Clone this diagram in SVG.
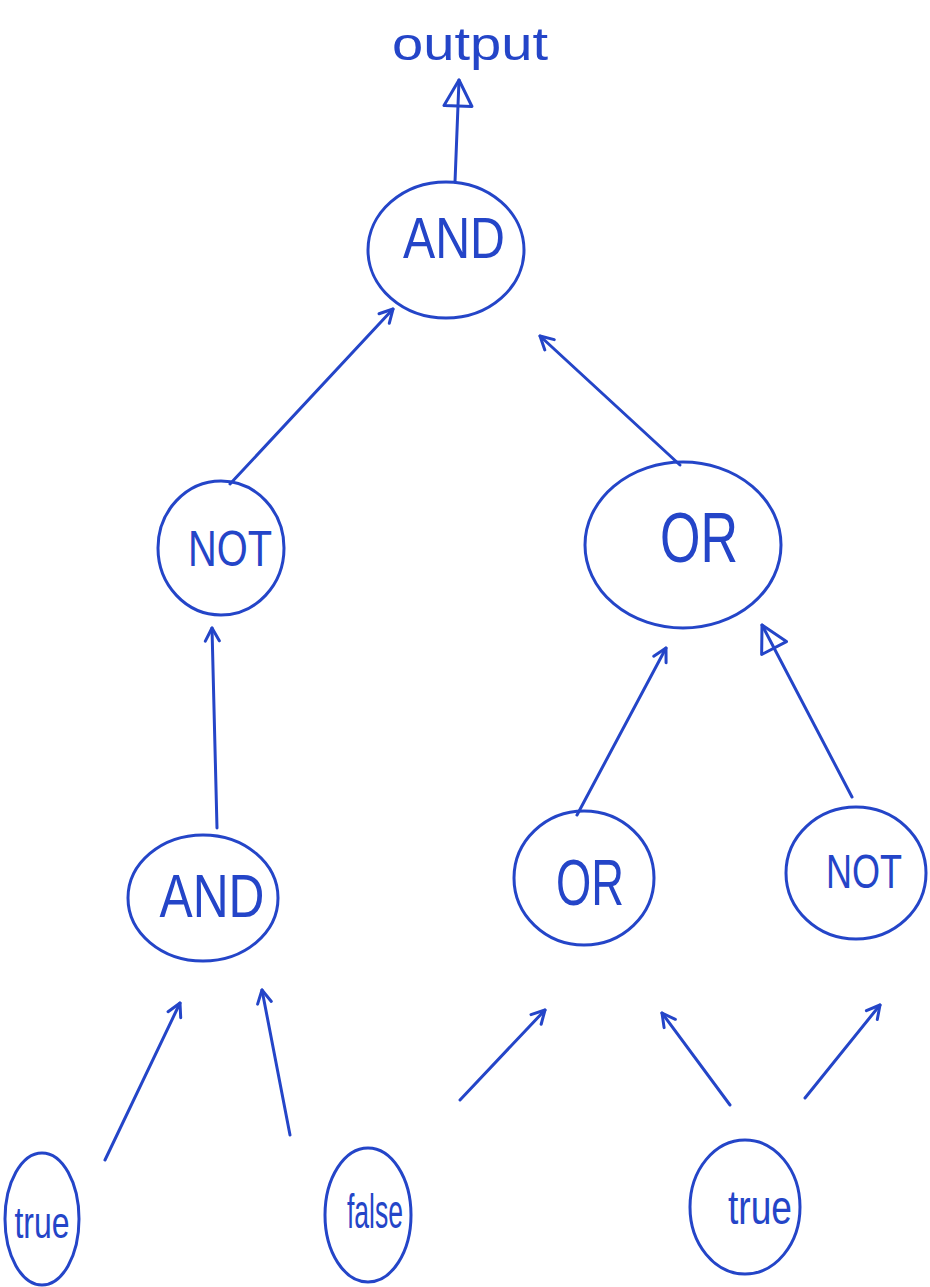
<svg xmlns="http://www.w3.org/2000/svg" width="930" height="1287" viewBox="0 0 930 1287">
  <style>
    .node { fill: none; stroke: #2445c8; stroke-width: 3; }
    .edge { fill: none; stroke: #2445c8; stroke-width: 3; stroke-linecap: round; }
    .lbl { fill: #2445c8; font-family: "Liberation Sans", "DejaVu Sans", sans-serif; text-anchor: middle; }
  </style>
  <defs>
    <marker id="vhead" markerWidth="18" markerHeight="20" refX="15" refY="9" orient="auto" markerUnits="userSpaceOnUse">
      <path d="M2,2 L15,9 L2,16" fill="none" stroke="#2445c8" stroke-width="3" stroke-linecap="round" stroke-linejoin="round"/>
    </marker>
    <marker id="trihead" markerWidth="32" markerHeight="34" refX="28" refY="16" orient="auto" markerUnits="userSpaceOnUse">
      <path d="M28,16 L2,2 L2,30 Z" fill="none" stroke="#2445c8" stroke-width="3" stroke-linejoin="round"/>
    </marker>
  </defs>

  <!-- output label -->
  <text class="lbl" x="470" y="60" font-size="46" textLength="156" lengthAdjust="spacingAndGlyphs">output</text>

  <!-- connectors -->
  <g id="edges">
    <path class="edge" d="M455,182 L459,80" marker-end="url(#trihead)"/>
    <path class="edge" d="M230,484 L393,309" marker-end="url(#vhead)"/>
    <path class="edge" d="M680,465 L540,336" marker-end="url(#vhead)"/>
    <path class="edge" d="M217,828 L212,628" marker-end="url(#vhead)"/>
    <path class="edge" d="M577,815 L666,648" marker-end="url(#vhead)"/>
    <path class="edge" d="M852,797 L762,625" marker-end="url(#trihead)"/>
    <path class="edge" d="M105,1160 L180,1003" marker-end="url(#vhead)"/>
    <path class="edge" d="M290,1135 L262,990" marker-end="url(#vhead)"/>
    <path class="edge" d="M460,1100 L545,1010" marker-end="url(#vhead)"/>
    <path class="edge" d="M730,1105 L662,1013" marker-end="url(#vhead)"/>
    <path class="edge" d="M805,1098 L880,1005" marker-end="url(#vhead)"/>
  </g>

  <g id="and-top">
    <ellipse class="node" cx="446" cy="250" rx="78" ry="68"/>
    <text class="lbl" x="454" y="258" font-size="58" textLength="102" lengthAdjust="spacingAndGlyphs">AND</text>
  </g>
  <g id="not-left">
    <ellipse class="node" cx="221" cy="548" rx="63" ry="67"/>
    <text class="lbl" x="230" y="566" font-size="50" textLength="84" lengthAdjust="spacingAndGlyphs">NOT</text>
  </g>
  <g id="or-right">
    <ellipse class="node" cx="683" cy="545" rx="98" ry="83"/>
    <text class="lbl" x="699" y="562" font-size="70" textLength="78" lengthAdjust="spacingAndGlyphs">OR</text>
  </g>
  <g id="and-bottom">
    <ellipse class="node" cx="203" cy="898" rx="75" ry="63"/>
    <text class="lbl" x="212" y="917" font-size="62" textLength="105" lengthAdjust="spacingAndGlyphs">AND</text>
  </g>
  <g id="or-mid">
    <ellipse class="node" cx="584" cy="878" rx="70" ry="67"/>
    <text class="lbl" x="590" y="905" font-size="64" textLength="68" lengthAdjust="spacingAndGlyphs">OR</text>
  </g>
  <g id="not-right">
    <ellipse class="node" cx="856" cy="873" rx="70" ry="66"/>
    <text class="lbl" x="864" y="888" font-size="48" textLength="76" lengthAdjust="spacingAndGlyphs">NOT</text>
  </g>
  <g id="true-left">
    <ellipse class="node" cx="42" cy="1219" rx="37" ry="66"/>
    <text class="lbl" x="42" y="1238" font-size="44" textLength="55" lengthAdjust="spacingAndGlyphs">true</text>
  </g>
  <g id="false">
    <ellipse class="node" cx="368" cy="1215" rx="43" ry="67"/>
    <text class="lbl" x="375" y="1228" font-size="48" textLength="56" lengthAdjust="spacingAndGlyphs">false</text>
  </g>
  <g id="true-right">
    <ellipse class="node" cx="745" cy="1207" rx="55" ry="67"/>
    <text class="lbl" x="760" y="1224" font-size="48" textLength="64" lengthAdjust="spacingAndGlyphs">true</text>
  </g>
</svg>
